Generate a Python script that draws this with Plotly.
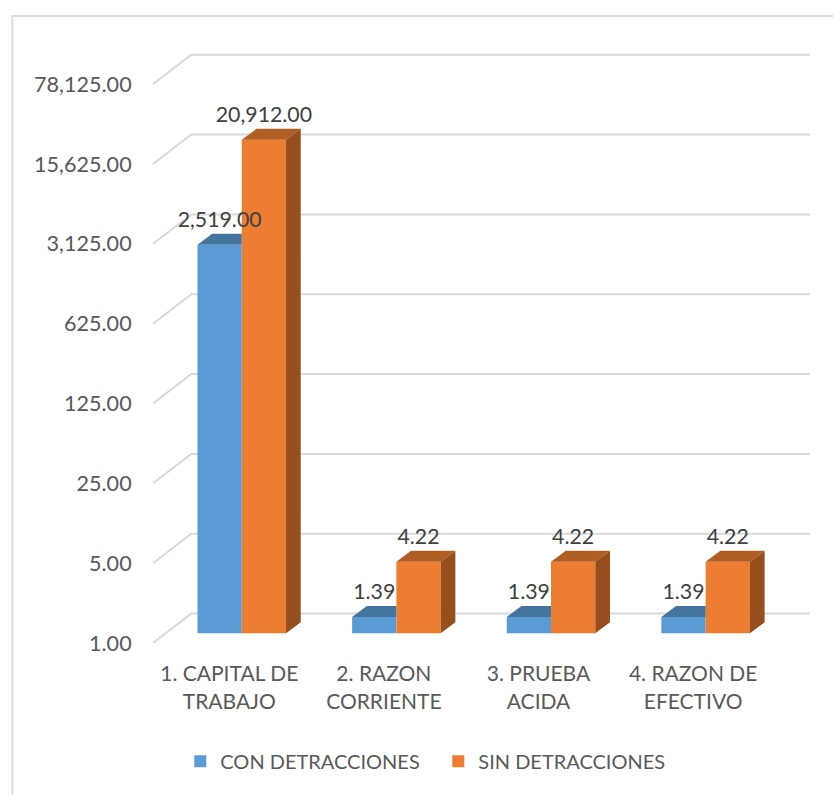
import math
import plotly.graph_objects as go

categories = ["1. CAPITAL DE<br>TRABAJO", "2. RAZON<br>CORRIENTE", "3. PRUEBA<br>ACIDA", "4. RAZON DE<br>EFECTIVO"]
con_detracciones = [2519.00, 1.39, 1.39, 1.39]
sin_detracciones = [20912.00, 4.22, 4.22, 4.22]
y_ticks = [1, 5, 25, 125, 625, 3125, 15625, 78125]

FONT = "Lato"
W, H = 833, 795
L, R, T, B = 152.7, 810.0, 40.0, 642.7   # plot area in px
BAR_FLOOR = 633.0
CAT_PX, DEC_PX = 154.7, 79.8
LOG5 = math.log10(5)
cat_x0 = 229.0

def shift(v, px):
    return v * 5 ** (px / DEC_PX)

xs = list(range(len(categories)))
bar_off = 12.5 / CAT_PX
bw = 44.3 / CAT_PX
ddx, ddy = 14.7 / CAT_PX, 11.0
back_dx, back_dy = 38.3 / CAT_PX, 29.4

x_range = [(L - cat_x0) / CAT_PX, (R - cat_x0) / CAT_PX]
x_back = x_range[0] + back_dx
bar_x = [i + bar_off for i in xs]

fig = go.Figure()

# walls: diagonal + horizontal grid line for each tick
gx, gy = [], []
for t in y_ticks:
    gx += [x_range[0], x_back, x_range[1], None]
    gy += [t, shift(t, back_dy), shift(t, back_dy), None]
fig.add_trace(go.Scatter(x=gx, y=gy, mode="lines", line=dict(color="#D9D9D9", width=2),
                         showlegend=False, hoverinfo="skip", xaxis="x", yaxis="y"))

BLUE, ORANGE = "#5B9BD5", "#ED7D31"
BLUE_TOP, ORANGE_TOP, ORANGE_SIDE = "#44759F", "#B15E24", "#964F1C"

fig.add_trace(go.Bar(x=bar_x, y=con_detracciones, name="CON DETRACCIONES", marker=dict(color=BLUE, line=dict(width=0)),
                     xaxis="x", yaxis="y2", hoverinfo="skip"))
fig.add_trace(go.Bar(x=bar_x, y=sin_detracciones, name="SIN DETRACCIONES", marker=dict(color=ORANGE, line=dict(width=0)),
                     xaxis="x", yaxis="y2", hoverinfo="skip"))

def poly(fill, px, py):
    fig.add_trace(go.Scatter(x=px, y=py, mode="lines", line=dict(width=0), fill="toself", fillcolor=fill,
                             showlegend=False, hoverinfo="skip", xaxis="x", yaxis="y2"))

bt_x, bt_y, ot_x, ot_y, os_x, os_y = [], [], [], [], [], []
for c, a, b in zip(bar_x, con_detracciones, sin_detracciones):
    xl, xm, xr = c - bw, c, c + bw
    bt_x += [xl, xl + ddx, xm, xm, xl, None]
    bt_y += [a, shift(a, ddy), shift(a, ddy), a, a, None]
    ot_x += [xm, xm + ddx, xr + ddx, xr, xm, None]
    ot_y += [b, shift(b, ddy), shift(b, ddy), b, b, None]
    os_x += [xr, xr + ddx, xr + ddx, xr, xr, None]
    os_y += [1, shift(1, ddy), shift(b, ddy), b, 1, None]
poly(BLUE_TOP, bt_x, bt_y)
poly(ORANGE_TOP, ot_x, ot_y)
poly(ORANGE_SIDE, os_x, os_y)

# data labels
LABEL_UP = 23.5
for vals, sign in ((con_detracciones, -0.5), (sin_detracciones, 0.5)):
    fig.add_trace(go.Scatter(
        x=[c + sign * bw for c in bar_x],
        y=[shift(v, LABEL_UP) for v in vals],
        text=[f"{v:,.2f}" for v in vals],
        mode="text", textposition="middle center",
        textfont=dict(family=FONT, size=21.3, color="#404040"),
        showlegend=False, hoverinfo="skip", xaxis="x", yaxis="y2"))

plot_h = B - T
fig.update_layout(
    width=W, height=H,
    margin=dict(l=L, r=W - R, t=T, b=H - B, pad=0, autoexpand=False),
    paper_bgcolor="white", plot_bgcolor="rgba(0,0,0,0)",
    font=dict(family=FONT, size=20, color="#595959"),
    barmode="group", bargap=1 - 2 * bw, bargroupgap=0,
    xaxis=dict(range=x_range, tickmode="array", tickvals=xs, ticktext=categories,
               showgrid=False, zeroline=False, showline=False, ticks="outside",
               ticklen=12, tickcolor="rgba(0,0,0,0)", tickfont=dict(family=FONT, size=21, color="#595959"),
               anchor="y"),
    yaxis=dict(type="log", domain=[0, 1], range=[0, plot_h / DEC_PX * LOG5],
               tickmode="array", tickvals=y_ticks, tickformat=",.2f",
               showgrid=False, zeroline=False, showline=False, ticks="outside",
               ticklen=16, tickcolor="rgba(0,0,0,0)", tickfont=dict(family=FONT, size=21.6, color="#595959")),
    yaxis2=dict(type="log", domain=[(B - BAR_FLOOR) / plot_h, 1], range=[0, (BAR_FLOOR - T) / DEC_PX * LOG5],
                anchor="x", showgrid=False, zeroline=False, showline=False, showticklabels=False, ticks=""),
    legend=dict(orientation="h", xanchor="left", yanchor="middle", x=(180 - L) / (R - L), y=(B - 761) / plot_h,
                entrywidth=213, entrywidthmode="pixels",
                font=dict(family=FONT, size=20, color="#595959"), bgcolor="rgba(0,0,0,0)", itemclick=False),
    shapes=[dict(type="rect", xref="paper", yref="paper",
                 x0=(12 - L) / (R - L), x1=(845 - L) / (R - L),
                 y0=(B - 805) / plot_h, y1=(B - 16) / plot_h,
                 line=dict(color="#DDDDDD", width=2), fillcolor="rgba(0,0,0,0)", layer="below")],
)

fig.write_html("out.html", config=dict(displayModeBar=False),
               post_script="document.body.style.margin='0';document.documentElement.style.overflow='hidden';")
